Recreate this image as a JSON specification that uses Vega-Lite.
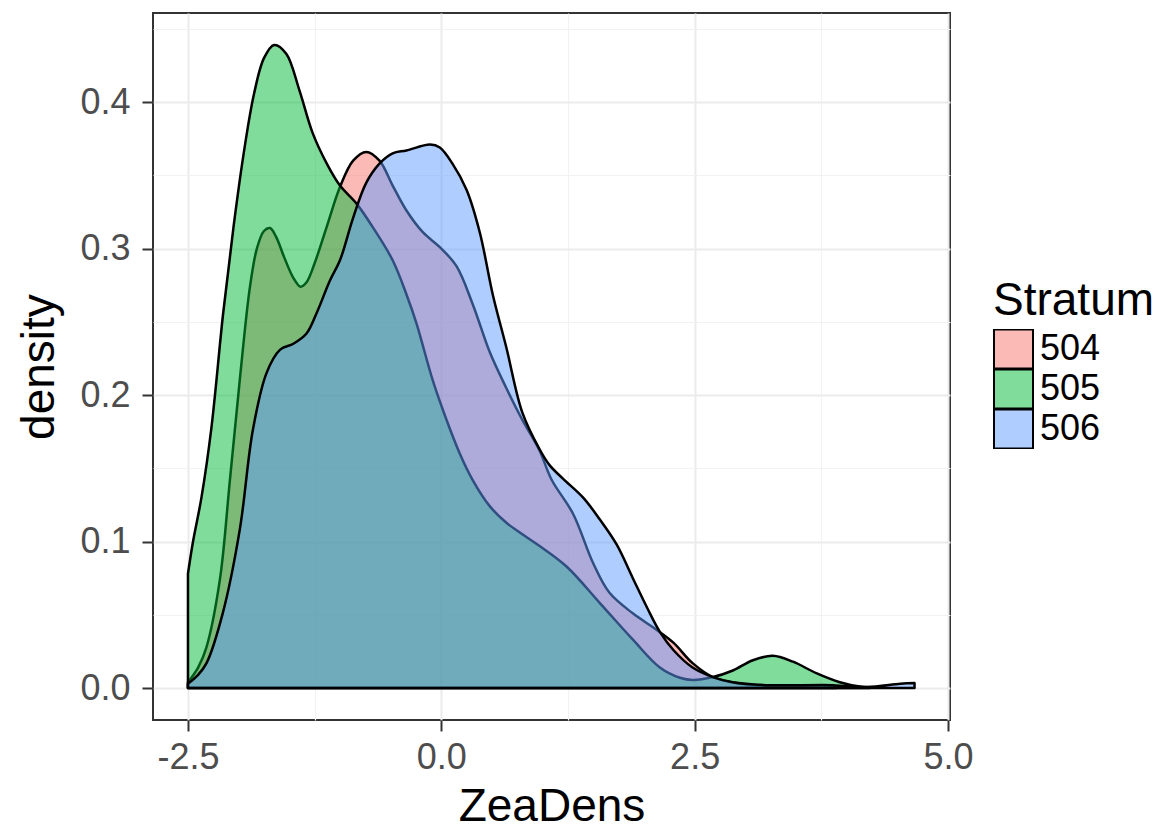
{
  "$schema": "https://vega.github.io/schema/vega-lite/v6.json",
  "autosize": "none",
  "padding": {"left": 153, "top": 13, "right": 212, "bottom": 112},
  "width": 797,
  "height": 707,
  "background": "white",
  "config": {
    "font": "Liberation Sans",
    "view": {"stroke": "#333333", "strokeWidth": 2},
    "axis": {
      "domain": false,
      "labelFont": "Liberation Sans",
      "labelFontSize": 36,
      "labelColor": "#4D4D4D",
      "titleFont": "Liberation Sans",
      "titleFontSize": 46,
      "titleFontWeight": "normal",
      "titleColor": "#000000",
      "tickColor": "#333333",
      "tickWidth": 2,
      "tickSize": 11
    },
    "legend": {
      "titleFont": "Liberation Sans",
      "titleFontSize": 46,
      "titleFontWeight": "normal",
      "titleColor": "#000000",
      "labelFont": "Liberation Sans",
      "labelFontSize": 36,
      "labelColor": "#000000"
    }
  },
  "data": {
    "values": [
      {"Stratum": "504", "ZeaDens": -2.5, "density": 0.004},
      {"Stratum": "504", "ZeaDens": -2.4, "density": 0.014},
      {"Stratum": "504", "ZeaDens": -2.317, "density": 0.028},
      {"Stratum": "504", "ZeaDens": -2.185, "density": 0.074},
      {"Stratum": "504", "ZeaDens": -2.086, "density": 0.142},
      {"Stratum": "504", "ZeaDens": -1.989, "density": 0.21},
      {"Stratum": "504", "ZeaDens": -1.89, "density": 0.273},
      {"Stratum": "504", "ZeaDens": -1.82, "density": 0.3},
      {"Stratum": "504", "ZeaDens": -1.75, "density": 0.312},
      {"Stratum": "504", "ZeaDens": -1.69, "density": 0.314},
      {"Stratum": "504", "ZeaDens": -1.63, "density": 0.308},
      {"Stratum": "504", "ZeaDens": -1.55, "density": 0.294},
      {"Stratum": "504", "ZeaDens": -1.46, "density": 0.28},
      {"Stratum": "504", "ZeaDens": -1.39, "density": 0.274},
      {"Stratum": "504", "ZeaDens": -1.33, "density": 0.277},
      {"Stratum": "504", "ZeaDens": -1.25, "density": 0.29},
      {"Stratum": "504", "ZeaDens": -1.13, "density": 0.315},
      {"Stratum": "504", "ZeaDens": -1.0, "density": 0.342},
      {"Stratum": "504", "ZeaDens": -0.87, "density": 0.36},
      {"Stratum": "504", "ZeaDens": -0.74, "density": 0.366},
      {"Stratum": "504", "ZeaDens": -0.61, "density": 0.36},
      {"Stratum": "504", "ZeaDens": -0.48, "density": 0.343},
      {"Stratum": "504", "ZeaDens": -0.344, "density": 0.326},
      {"Stratum": "504", "ZeaDens": -0.18, "density": 0.311},
      {"Stratum": "504", "ZeaDens": -0.015, "density": 0.301},
      {"Stratum": "504", "ZeaDens": 0.15, "density": 0.288},
      {"Stratum": "504", "ZeaDens": 0.31, "density": 0.262},
      {"Stratum": "504", "ZeaDens": 0.48, "density": 0.229},
      {"Stratum": "504", "ZeaDens": 0.64, "density": 0.205},
      {"Stratum": "504", "ZeaDens": 0.8, "density": 0.183},
      {"Stratum": "504", "ZeaDens": 0.97, "density": 0.162},
      {"Stratum": "504", "ZeaDens": 1.09, "density": 0.142},
      {"Stratum": "504", "ZeaDens": 1.3, "density": 0.119},
      {"Stratum": "504", "ZeaDens": 1.5, "density": 0.085},
      {"Stratum": "504", "ZeaDens": 1.66, "density": 0.065},
      {"Stratum": "504", "ZeaDens": 1.89, "density": 0.051},
      {"Stratum": "504", "ZeaDens": 2.12, "density": 0.04},
      {"Stratum": "504", "ZeaDens": 2.29, "density": 0.031},
      {"Stratum": "504", "ZeaDens": 2.48, "density": 0.017},
      {"Stratum": "504", "ZeaDens": 2.68, "density": 0.0075},
      {"Stratum": "504", "ZeaDens": 2.95, "density": 0.003},
      {"Stratum": "504", "ZeaDens": 3.3, "density": 0.0015},
      {"Stratum": "504", "ZeaDens": 3.6, "density": 0.0015},
      {"Stratum": "504", "ZeaDens": 3.9, "density": 0.0005},

      {"Stratum": "505", "ZeaDens": -2.5, "density": 0.078},
      {"Stratum": "505", "ZeaDens": -2.45, "density": 0.1},
      {"Stratum": "505", "ZeaDens": -2.367, "density": 0.13},
      {"Stratum": "505", "ZeaDens": -2.268, "density": 0.178},
      {"Stratum": "505", "ZeaDens": -2.154, "density": 0.255},
      {"Stratum": "505", "ZeaDens": -2.05, "density": 0.315},
      {"Stratum": "505", "ZeaDens": -1.95, "density": 0.365},
      {"Stratum": "505", "ZeaDens": -1.85, "density": 0.405},
      {"Stratum": "505", "ZeaDens": -1.75, "density": 0.43},
      {"Stratum": "505", "ZeaDens": -1.65, "density": 0.439},
      {"Stratum": "505", "ZeaDens": -1.53, "density": 0.433},
      {"Stratum": "505", "ZeaDens": -1.4, "density": 0.408},
      {"Stratum": "505", "ZeaDens": -1.27, "density": 0.379},
      {"Stratum": "505", "ZeaDens": -1.13, "density": 0.358},
      {"Stratum": "505", "ZeaDens": -1.0, "density": 0.343},
      {"Stratum": "505", "ZeaDens": -0.84, "density": 0.331},
      {"Stratum": "505", "ZeaDens": -0.68, "density": 0.315},
      {"Stratum": "505", "ZeaDens": -0.48, "density": 0.292},
      {"Stratum": "505", "ZeaDens": -0.34, "density": 0.268},
      {"Stratum": "505", "ZeaDens": -0.245, "density": 0.249},
      {"Stratum": "505", "ZeaDens": -0.084, "density": 0.21},
      {"Stratum": "505", "ZeaDens": 0.052, "density": 0.183},
      {"Stratum": "505", "ZeaDens": 0.183, "density": 0.16},
      {"Stratum": "505", "ZeaDens": 0.31, "density": 0.142},
      {"Stratum": "505", "ZeaDens": 0.48, "density": 0.124},
      {"Stratum": "505", "ZeaDens": 0.64, "density": 0.113},
      {"Stratum": "505", "ZeaDens": 0.8, "density": 0.105},
      {"Stratum": "505", "ZeaDens": 0.97, "density": 0.097},
      {"Stratum": "505", "ZeaDens": 1.236, "density": 0.083},
      {"Stratum": "505", "ZeaDens": 1.565, "density": 0.058},
      {"Stratum": "505", "ZeaDens": 1.891, "density": 0.033},
      {"Stratum": "505", "ZeaDens": 2.157, "density": 0.014},
      {"Stratum": "505", "ZeaDens": 2.355, "density": 0.007},
      {"Stratum": "505", "ZeaDens": 2.483, "density": 0.0055},
      {"Stratum": "505", "ZeaDens": 2.68, "density": 0.0075},
      {"Stratum": "505", "ZeaDens": 2.877, "density": 0.012},
      {"Stratum": "505", "ZeaDens": 3.075, "density": 0.019},
      {"Stratum": "505", "ZeaDens": 3.272, "density": 0.022},
      {"Stratum": "505", "ZeaDens": 3.47, "density": 0.018},
      {"Stratum": "505", "ZeaDens": 3.706, "density": 0.01},
      {"Stratum": "505", "ZeaDens": 3.933, "density": 0.004},
      {"Stratum": "505", "ZeaDens": 4.13, "density": 0.001},
      {"Stratum": "505", "ZeaDens": 4.23, "density": 0.0005},

      {"Stratum": "506", "ZeaDens": -2.5, "density": 0.003},
      {"Stratum": "506", "ZeaDens": -2.4, "density": 0.009},
      {"Stratum": "506", "ZeaDens": -2.317, "density": 0.017},
      {"Stratum": "506", "ZeaDens": -2.157, "density": 0.051},
      {"Stratum": "506", "ZeaDens": -1.989, "density": 0.108},
      {"Stratum": "506", "ZeaDens": -1.86, "density": 0.176},
      {"Stratum": "506", "ZeaDens": -1.725, "density": 0.215},
      {"Stratum": "506", "ZeaDens": -1.59, "density": 0.231},
      {"Stratum": "506", "ZeaDens": -1.46, "density": 0.235},
      {"Stratum": "506", "ZeaDens": -1.33, "density": 0.242},
      {"Stratum": "506", "ZeaDens": -1.23, "density": 0.256},
      {"Stratum": "506", "ZeaDens": -1.1, "density": 0.278},
      {"Stratum": "506", "ZeaDens": -1.0, "density": 0.292},
      {"Stratum": "506", "ZeaDens": -0.87, "density": 0.321},
      {"Stratum": "506", "ZeaDens": -0.74, "density": 0.345},
      {"Stratum": "506", "ZeaDens": -0.61, "density": 0.358},
      {"Stratum": "506", "ZeaDens": -0.48, "density": 0.365},
      {"Stratum": "506", "ZeaDens": -0.344, "density": 0.367},
      {"Stratum": "506", "ZeaDens": -0.11, "density": 0.371},
      {"Stratum": "506", "ZeaDens": -0.015, "density": 0.369},
      {"Stratum": "506", "ZeaDens": 0.11, "density": 0.358},
      {"Stratum": "506", "ZeaDens": 0.25, "density": 0.34},
      {"Stratum": "506", "ZeaDens": 0.38, "density": 0.311},
      {"Stratum": "506", "ZeaDens": 0.51, "density": 0.268},
      {"Stratum": "506", "ZeaDens": 0.64, "density": 0.233},
      {"Stratum": "506", "ZeaDens": 0.8, "density": 0.188},
      {"Stratum": "506", "ZeaDens": 0.97, "density": 0.163},
      {"Stratum": "506", "ZeaDens": 1.07, "density": 0.152},
      {"Stratum": "506", "ZeaDens": 1.2, "density": 0.143},
      {"Stratum": "506", "ZeaDens": 1.4, "density": 0.13},
      {"Stratum": "506", "ZeaDens": 1.565, "density": 0.115},
      {"Stratum": "506", "ZeaDens": 1.73, "density": 0.098},
      {"Stratum": "506", "ZeaDens": 1.89, "density": 0.075},
      {"Stratum": "506", "ZeaDens": 2.03, "density": 0.055},
      {"Stratum": "506", "ZeaDens": 2.16, "density": 0.038},
      {"Stratum": "506", "ZeaDens": 2.29, "density": 0.026},
      {"Stratum": "506", "ZeaDens": 2.48, "density": 0.014},
      {"Stratum": "506", "ZeaDens": 2.68, "density": 0.0075},
      {"Stratum": "506", "ZeaDens": 2.877, "density": 0.004},
      {"Stratum": "506", "ZeaDens": 3.21, "density": 0.002},
      {"Stratum": "506", "ZeaDens": 3.86, "density": 0.002},
      {"Stratum": "506", "ZeaDens": 4.2, "density": 0.0007},
      {"Stratum": "506", "ZeaDens": 4.53, "density": 0.003},
      {"Stratum": "506", "ZeaDens": 4.67, "density": 0.0035}
    ]
  },
  "mark": {
    "type": "area",
    "interpolate": "catmull-rom",
    "fillOpacity": 0.5,
    "stroke": "#000000",
    "strokeWidth": 2.5,
    "strokeJoin": "round"
  },
  "encoding": {
    "x": {
      "field": "ZeaDens",
      "type": "quantitative",
      "scale": {"domain": [-2.845, 5.02], "nice": false, "zero": false},
      "axis": {
        "title": "ZeaDens",
        "values": [-2.5, -1.25, 0, 1.25, 2.5, 3.75, 5],
        "labelExpr": "abs(datum.value) % 2.5 < 0.01 ? replace(format(datum.value, '.1f'), '\u2212', '-') : ''",
        "labelOverlap": false,
        "labelPadding": 9,
        "titlePadding": 9,
        "gridColor": {"condition": {"test": "abs(datum.value) % 2.5 < 0.01", "value": "#EBEBEB"}, "value": "#F2F2F2"},
        "gridWidth": {"condition": {"test": "abs(datum.value) % 2.5 < 0.01", "value": 2}, "value": 1.2},
        "tickOpacity": {"condition": {"test": "abs(datum.value) % 2.5 < 0.01", "value": 1}, "value": 0}
      }
    },
    "y": {
      "field": "density",
      "type": "quantitative",
      "stack": null,
      "scale": {"domain": [-0.0218, 0.4608], "nice": false, "zero": false},
      "axis": {
        "title": "density",
        "values": [0, 0.05, 0.1, 0.15, 0.2, 0.25, 0.3, 0.35, 0.4, 0.45],
        "labelExpr": "abs(datum.value * 10 - round(datum.value * 10)) < 0.01 ? format(datum.value, '.1f') : ''",
        "labelOverlap": false,
        "labelPadding": 12,
        "titlePadding": 16,
        "gridColor": {"condition": {"test": "abs(datum.value * 10 - round(datum.value * 10)) < 0.01", "value": "#EBEBEB"}, "value": "#F2F2F2"},
        "gridWidth": {"condition": {"test": "abs(datum.value * 10 - round(datum.value * 10)) < 0.01", "value": 2}, "value": 1.2},
        "tickOpacity": {"condition": {"test": "abs(datum.value * 10 - round(datum.value * 10)) < 0.01", "value": 1}, "value": 0}
      }
    },
    "color": {
      "field": "Stratum",
      "type": "nominal",
      "scale": {"domain": ["504", "505", "506"], "range": ["#F8766D", "#00BA38", "#619CFF"]},
      "legend": {
        "title": "Stratum",
        "orient": "none",
        "legendX": 840,
        "legendY": 266,
        "padding": 0,
        "symbolType": "square",
        "symbolSize": 1521,
        "symbolStrokeColor": "#000000",
        "symbolStrokeWidth": 2,
        "rowPadding": 0,
        "clipHeight": 40,
        "labelOffset": 6,
        "titlePadding": 4,
        "encode": {"symbols": {"update": {"fillOpacity": {"value": 0.5}, "stroke": {"value": "#000000"}}}}
      }
    }
  }
}
